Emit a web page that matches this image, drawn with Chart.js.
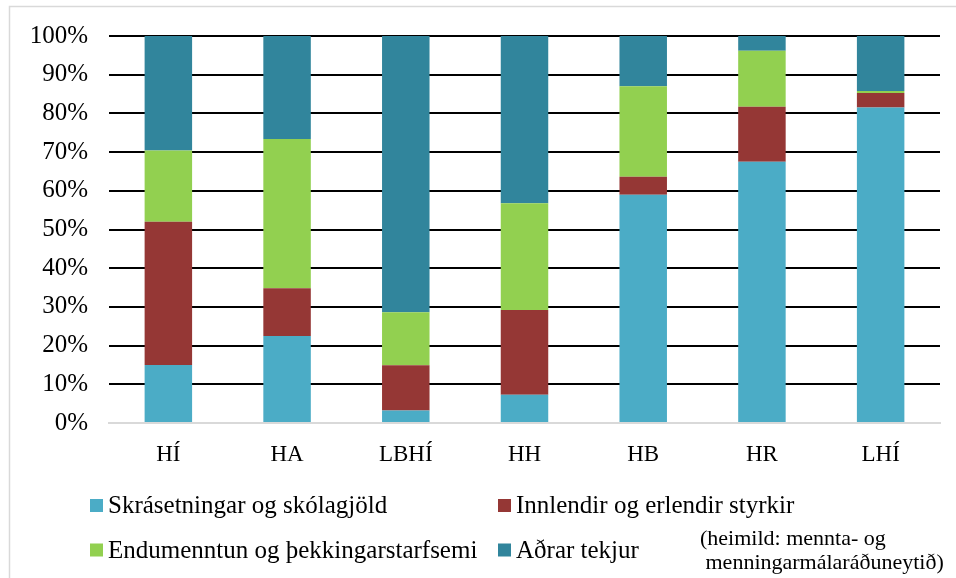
<!DOCTYPE html>
<html>
<head>
<meta charset="utf-8">
<script src="https://cdn.jsdelivr.net/npm/chart.js@4/dist/chart.umd.min.js"></script>
<style>
	html, body { margin: 0; padding: 0; background: #fff; }
	#wrap { width: 956px; height: 578px; position: relative; }
</style>
</head>
<body>
<div id="wrap"><canvas id="incomeChart"></canvas></div>
<script>
// Tekjuskipting háskóla, hlutfall af heild
var schools = ['HÍ', 'HA', 'LBHÍ', 'HH', 'HB', 'HR', 'LHÍ'];
var tuition = [15.0, 22.5, 3.2, 7.3, 59.0, 67.5, 81.5];
var grants = [37.0, 12.3, 11.7, 21.9, 4.6, 14.2, 3.8];
var continuing = [18.4, 38.6, 13.7, 27.6, 23.4, 14.5, 0.5];
var otherIncome = [29.6, 26.6, 71.4, 43.2, 13.0, 3.8, 14.2];
var seriesNames = ['Skrásetningar og skólagjöld', 'Innlendir og erlendir styrkir', 'Endumenntun og þekkingarstarfsemi', 'Aðrar tekjur'];
var yTicks = [0, 10, 20, 30, 40, 50, 60, 70, 80, 90, 100];
var sourceNote = ['(heimild: mennta- og', ' menningarmálaráðuneytið)'];

var fontFamily = '"Liberation Serif", "Times New Roman", serif';

// legend in two columns and source note below the plot
var bottomLegend = {
	id: 'bottomLegend',
	afterDraw: function(chart) {
		var c = chart.ctx;
		var cols = [90, 498], rows = [505.5, 550];
		c.save();
		c.font = '25px ' + fontFamily;
		c.textBaseline = 'middle';
		c.fillStyle = '#000';
		chart.data.datasets.forEach(function(ds, i) {
			var x = cols[i % 2], y = rows[Math.floor(i / 2)];
			c.fillStyle = ds.backgroundColor;
			c.fillRect(x, y - 6.5, 13, 13);
			c.fillStyle = '#000';
			c.fillText(ds.label, x + 18, y + 1);
		});
		c.font = '22px ' + fontFamily;
		c.fillText(sourceNote[0], 700, 539);
		c.fillText(sourceNote[1], 700, 563);
		// outer frame
		c.strokeStyle = '#d9d9d9';
		c.lineWidth = 1.5;
		c.strokeRect(9.5, 6.5, 1000, 1000);
		c.restore();
	}
};

var ctx = document.getElementById('incomeChart');
var incomeChart = new Chart(ctx, {
	type: 'bar',
	data: {
		labels: schools,
		datasets: [
			{ label: seriesNames[0], data: tuition, backgroundColor: '#4BACC6' },
			{ label: seriesNames[1], data: grants, backgroundColor: '#953735' },
			{ label: seriesNames[2], data: continuing, backgroundColor: '#92D050' },
			{ label: seriesNames[3], data: otherIncome, backgroundColor: '#31859C' }
		]
	},
	options: {
		responsive: true,
		maintainAspectRatio: false,
		animation: false,
		devicePixelRatio: 1,
		datasets: {
			bar: { barPercentage: 0.4, categoryPercentage: 1, borderWidth: 0 }
		},
		layout: { padding: { top: 36, left: 0, right: 16, bottom: 95 } },
		plugins: {
			legend: { display: false },
			tooltip: { enabled: false }
		},
		scales: {
			x: {
				stacked: true,
				grid: { display: false, drawTicks: false },
				border: { color: '#d9d9d9', width: 2 },
				ticks: { color: '#000', font: { family: fontFamily, size: 23 }, padding: 18 },
				afterFit: function(s) { s.height = 60; }
			},
			y: {
				stacked: true,
				min: 0,
				max: 100,
				afterBuildTicks: function(s) { s.ticks = yTicks.map(function(v) { return { value: v }; }); },
				grid: {
					drawTicks: false,
					lineWidth: 2,
					color: function(c) { return c.tick && c.tick.value === 0 ? '#d9d9d9' : '#000'; }
				},
				border: { display: false },
				ticks: {
					color: '#000',
					font: { family: fontFamily, size: 25 },
					padding: 21,
					callback: function(v) { return v + '%'; }
				},
				afterFit: function(s) { s.width = 109; }
			}
		}
	},
	plugins: [bottomLegend]
});
</script>
</body>
</html>
